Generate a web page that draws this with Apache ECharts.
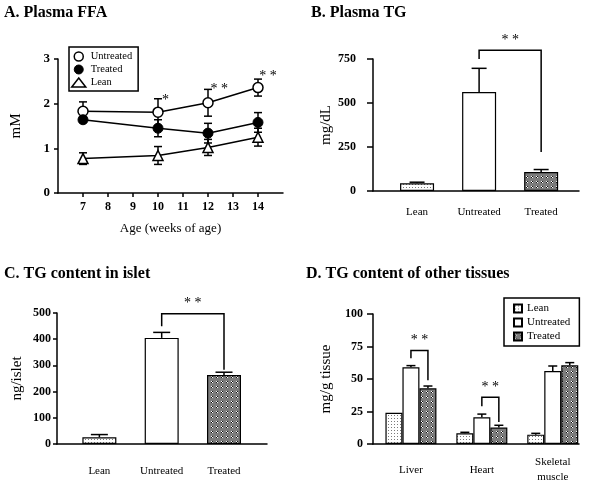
<!DOCTYPE html>
<html><head><meta charset="utf-8">
<script src="https://cdn.jsdelivr.net/npm/echarts@6/dist/echarts.min.js"></script>
<style>html,body{margin:0;padding:0;background:#fff}#c{width:589px;height:485px}</style>
</head><body><div id="c"></div>
<script>
// ---------- Panel A: Plasma FFA ----------
const ageWeeks = [7, 10, 12, 14];
const ffaTicks = [7, 8, 9, 10, 11, 12, 13, 14];
const ffaUntreated = [1.83, 1.81, 2.02, 2.36];
const ffaUntreatedErr = [0.21, 0.30, 0.30, 0.19];
const ffaTreated = [1.64, 1.45, 1.34, 1.58];
const ffaTreatedErr = [0.06, 0.19, 0.22, 0.22];
const ffaLean = [0.77, 0.84, 1.02, 1.25];
const ffaLeanErr = [0.13, 0.20, 0.18, 0.20];
const ffaStarPos = [[10.3, 2.15], [12.45, 2.39], [14.4, 2.67]];
const ffaStarText = ['*', '* *', '* *'];

// ---------- Panel B: Plasma TG ----------
const groups = ['Lean', 'Untreated', 'Treated'];
const tgPlasma = [44, 562, 108];
const tgPlasmaErr = [6, 135, 14];
const tgPlasmaBracket = [[2, 3, 800, 750, 222]];   // from, to, top, left end, right end

// ---------- Panel C: TG content in islet ----------
const tgIslet = [26, 405, 263];
const tgIsletErr = [10, 21, 11];
const tgIsletBracket = [[2, 3, 497, 449, 283]];

// ---------- Panel D: TG content of other tissues ----------
const tissues = ['Liver', 'Heart', 'Skeletal\nmuscle'];
const tissueLean = [24, 8.2, 7.2];
const tissueLeanErr = [0, 0.8, 1.0];
const tissueUntreated = [59, 20.5, 56.2];
const tissueUntreatedErr = [1.3, 2.5, 3.8];
const tissueTreated = [42.8, 12.6, 60.5];
const tissueTreatedErr = [1.8, 1.8, 2.1];
const tissueBrackets = [[1, 72, 66, 49], [2, 36, 29, 17]]; // group, top, left end, right end

const FONT = "'Liberation Serif','Times New Roman',serif";
const LW = 1.5;

function makePattern(bg, size, pts) {
  const c = document.createElement('canvas'); c.width = size; c.height = size;
  const g = c.getContext('2d'); g.fillStyle = bg; g.fillRect(0, 0, size, size);
  pts.forEach(p => { g.fillStyle = p[2]; g.fillRect(p[0], p[1], 1, 1); });
  return { image: c, repeat: 'repeat' };
}
const leanFill = makePattern('#ffffff', 3, [[1, 1, '#7a7a7a']]);
const treatedFill = makePattern('#7c7c7c', 5, [[1, 1, '#ffffff'], [2, 2, '#ffffff'], [2, 1, '#111111'], [1, 2, '#111111']]);
const groupFills = [leanFill, '#ffffff', treatedFill];

const lineStyle = { stroke: '#000', lineWidth: LW };

function errSeries(xi, xs, ys, es, cap, both, dx) {
  return {
    type: 'custom', xAxisIndex: xi, yAxisIndex: xi, z: 4, silent: true, animation: false,
    data: xs.map((x, i) => [x, ys[i], es[i]]),
    renderItem: (params, api) => {
      const x = api.value(0), y = api.value(1), e = api.value(2);
      if (!e) return null;
      const top = api.coord([x, y + e]);
      const bot = api.coord([x, both ? y - e : y]);
      const cx = top[0] + (dx || 0);
      const ch = [
        { type: 'line', shape: { x1: cx, y1: top[1], x2: cx, y2: bot[1] }, style: lineStyle },
        { type: 'line', shape: { x1: cx - cap / 2, y1: top[1], x2: cx + cap / 2, y2: top[1] }, style: lineStyle }
      ];
      if (both) ch.push({ type: 'line', shape: { x1: cx - cap / 2, y1: bot[1], x2: cx + cap / 2, y2: bot[1] }, style: lineStyle });
      return { type: 'group', children: ch };
    }
  };
}

function bracketSeries(xi, rows, dx1, dx2) {
  return {
    type: 'custom', xAxisIndex: xi, yAxisIndex: xi, z: 5, silent: true, animation: false,
    encode: { x: 0, y: 2 },
    data: rows,
    renderItem: (params, api) => {
      const x1 = api.value(0), x2 = api.value(1), top = api.value(2), le = api.value(3), re = api.value(4);
      const a = api.coord([x1, top]), b = api.coord([x2, top]);
      const al = api.coord([x1, le]), br = api.coord([x2, re]);
      const ax = a[0] + dx1, bx = b[0] + dx2;
      return {
        type: 'group', children: [
          { type: 'polyline', shape: { points: [[ax, al[1]], [ax, a[1]], [bx, b[1]], [bx, br[1]]] }, style: { stroke: '#000', lineWidth: LW, fill: null } },
          { type: 'text', style: { text: '* *', x: (ax + bx) / 2, y: a[1] - 10, align: 'center', verticalAlign: 'middle', font: '14px ' + FONT, fill: '#000' } }
        ]
      };
    }
  };
}

function yAx(gi, max, interval, fs, margin, name, nameGap, tickLen) {
  return {
    gridIndex: gi, type: 'value', min: 0, max: max, interval: interval,
    name: name, nameLocation: 'middle', nameGap: nameGap,
    nameTextStyle: { fontFamily: FONT, fontSize: 15, color: '#000' },
    axisLine: { show: true, lineStyle: { color: '#000', width: LW } },
    axisTick: { show: true, length: tickLen, lineStyle: { color: '#000', width: LW } },
    axisLabel: { fontFamily: FONT, fontWeight: 'bold', fontSize: fs, color: '#000', margin: margin },
    splitLine: { show: false }
  };
}
function catX(gi, min, max, labels, margin) {
  return {
    gridIndex: gi, type: 'value', min: min, max: max,
    axisLine: { show: true, onZero: false, lineStyle: { color: '#000', width: LW } },
    axisTick: { show: false },
    axisLabel: {
      customValues: labels.map((l, i) => i + 1),
      formatter: v => labels[Math.round(v) - 1] || '',
      fontFamily: FONT, fontSize: 11, color: '#000', margin: margin, verticalAlign: 'middle', lineHeight: 15
    },
    splitLine: { show: false }
  };
}

const option = {
  animation: false,
  backgroundColor: '#fff',
  title: [
    { text: 'A. Plasma FFA', left: 4, top: 5 },
    { text: 'B. Plasma TG', left: 311, top: 5 },
    { text: 'C. TG content in islet', left: 4, top: 266 },
    { text: 'D. TG content of other tissues', left: 306, top: 266 }
  ].map(t => Object.assign(t, { padding: 0, textStyle: { fontFamily: FONT, fontWeight: 'bold', fontSize: 16, color: '#000' } })),
  legend: [
    {
      left: 69, top: 47, orient: 'vertical', padding: [4, 6, 3, 2], itemGap: 2,
      itemWidth: 14, itemHeight: 9, selectedMode: false,
      borderColor: '#000', borderWidth: LW,
      textStyle: { fontFamily: FONT, fontSize: 10.5, color: '#000' },
      data: [
        { name: 'Untreated', icon: 'circle', itemStyle: { color: '#fff', borderColor: '#000', borderWidth: 1.5 } },
        { name: 'Treated', icon: 'circle', itemStyle: { color: '#000', borderColor: '#000', borderWidth: 1 } },
        { name: 'Lean', icon: 'triangle', itemStyle: { color: '#fff', borderColor: '#000', borderWidth: 1.5 } }
      ]
    },
    {
      left: 504, top: 298, orient: 'vertical', padding: [5, 9, 4, 9], itemGap: 3,
      itemWidth: 8, itemHeight: 8, selectedMode: false,
      borderColor: '#000', borderWidth: LW,
      textStyle: { fontFamily: FONT, fontSize: 11, color: '#000' },
      formatter: n => n.trim(),
      data: [
        { name: 'Lean ', icon: 'rect' },
        { name: 'Untreated ', icon: 'rect' },
        { name: 'Treated ', icon: 'rect' }
      ]
    }
  ],
  grid: [
    { left: 58, top: 59, width: 225, height: 134 },
    { left: 373, top: 59, width: 206, height: 132 },
    { left: 57, top: 313, width: 210, height: 131 },
    { left: 373, top: 314, width: 206, height: 130 }
  ],
  xAxis: [
    {
      gridIndex: 0, type: 'value', min: 6, max: 15, interval: 1,
      name: 'Age (weeks of age)', nameLocation: 'middle', nameGap: 29,
      nameTextStyle: { fontFamily: FONT, fontSize: 13, color: '#000' },
      axisLine: { show: true, onZero: false, lineStyle: { color: '#000', width: LW } },
      axisTick: { show: true, length: 4, customValues: ffaTicks, lineStyle: { color: '#000', width: LW } },
      axisLabel: { customValues: ffaTicks, fontFamily: FONT, fontWeight: 'bold', fontSize: 12, color: '#000', margin: 14, verticalAlign: 'middle' },
      splitLine: { show: false }
    },
    catX(1, 0.29, 3.61, groups, 21),
    catX(2, 0.32, 3.69, groups, 27),
    catX(3, 0.465, 3.37, tissues, 26)
  ],
  yAxis: [
    yAx(0, 3, 1, 13, 8, 'mM', 34, 4),
    yAx(1, 750, 250, 12, 17, 'mg/dL', 39, 6),
    yAx(2, 500, 100, 12, 6, 'ng/islet', 32, 4),
    yAx(3, 100, 25, 12, 10, 'mg/g tissue', 39, 6)
  ],
  series: [
    // Panel A lines
    {
      type: 'line', name: 'Untreated', xAxisIndex: 0, yAxisIndex: 0, z: 6,
      data: ageWeeks.map((x, i) => [x, ffaUntreated[i]]),
      symbol: 'circle', symbolSize: 10,
      itemStyle: { color: '#fff', borderColor: '#000', borderWidth: 1.5 },
      lineStyle: { color: '#000', width: LW }
    },
    {
      type: 'line', name: 'Treated', xAxisIndex: 0, yAxisIndex: 0, z: 6,
      data: ageWeeks.map((x, i) => [x, ffaTreated[i]]),
      symbol: 'circle', symbolSize: 10,
      itemStyle: { color: '#000', borderColor: '#000', borderWidth: 1 },
      lineStyle: { color: '#000', width: LW }
    },
    {
      type: 'line', name: 'Lean', xAxisIndex: 0, yAxisIndex: 0, z: 6,
      data: ageWeeks.map((x, i) => [x, ffaLean[i]]),
      symbol: 'triangle', symbolSize: 10,
      itemStyle: { color: '#fff', borderColor: '#000', borderWidth: 1.5 },
      lineStyle: { color: '#000', width: LW }
    },
    errSeries(0, ageWeeks, ffaUntreated, ffaUntreatedErr, 8, true, 0),
    errSeries(0, ageWeeks, ffaTreated, ffaTreatedErr, 8, true, 0),
    errSeries(0, ageWeeks, ffaLean, ffaLeanErr, 8, true, 0),
    {
      type: 'custom', xAxisIndex: 0, yAxisIndex: 0, z: 7, silent: true,
      data: ffaStarPos,
      renderItem: (params, api) => {
        const p = api.coord([api.value(0), api.value(1)]);
        return { type: 'text', style: { text: ffaStarText[params.dataIndex], x: p[0], y: p[1] + 3, align: 'center', verticalAlign: 'middle', font: '14px ' + FONT, fill: '#000' } };
      }
    },
    // Panel B
    {
      type: 'bar', xAxisIndex: 1, yAxisIndex: 1, barWidth: 34, z: 3,
      data: groups.map((g, i) => ({ value: [i + 1, tgPlasma[i]], itemStyle: { color: groupFills[i] } })),
      itemStyle: { borderColor: '#000', borderWidth: 1.2 }
    },
    errSeries(1, [1, 2, 3], tgPlasma, tgPlasmaErr, 15, false, 0),
    bracketSeries(1, tgPlasmaBracket, 0, 0),
    // Panel C
    {
      type: 'bar', xAxisIndex: 2, yAxisIndex: 2, barWidth: 34, z: 3,
      data: groups.map((g, i) => ({ value: [i + 1, tgIslet[i]], itemStyle: { color: groupFills[i] } })),
      itemStyle: { borderColor: '#000', borderWidth: 1.2 }
    },
    errSeries(2, [1, 2, 3], tgIslet, tgIsletErr, 17, false, 0),
    bracketSeries(2, tgIsletBracket, 0, 0),
    // Panel D
    {
      type: 'bar', name: 'Lean ', xAxisIndex: 3, yAxisIndex: 3, barWidth: 17, barGap: '0%', z: 3,
      data: tissues.map((t, i) => [i + 1, tissueLean[i]]),
      itemStyle: { color: leanFill, borderColor: '#000', borderWidth: 1.2 }
    },
    {
      type: 'bar', name: 'Untreated ', xAxisIndex: 3, yAxisIndex: 3, barWidth: 17, barGap: '0%', z: 3,
      data: tissues.map((t, i) => [i + 1, tissueUntreated[i]]),
      itemStyle: { color: '#fff', borderColor: '#000', borderWidth: 1.2 }
    },
    {
      type: 'bar', name: 'Treated ', xAxisIndex: 3, yAxisIndex: 3, barWidth: 17, barGap: '0%', z: 3,
      data: tissues.map((t, i) => [i + 1, tissueTreated[i]]),
      itemStyle: { color: treatedFill, borderColor: '#000', borderWidth: 1.2 }
    },
    errSeries(3, [1, 2, 3], tissueLean, tissueLeanErr, 9, false, -17),
    errSeries(3, [1, 2, 3], tissueUntreated, tissueUntreatedErr, 9, false, 0),
    errSeries(3, [1, 2, 3], tissueTreated, tissueTreatedErr, 9, false, 17),
    bracketSeries(3, tissueBrackets.map(r => [r[0], r[0], r[1], r[2], r[3]]), 0, 17)
  ]
};

const chart = echarts.init(document.getElementById('c'), null, { renderer: 'canvas' });
chart.setOption(option);
</script>
</body></html>
